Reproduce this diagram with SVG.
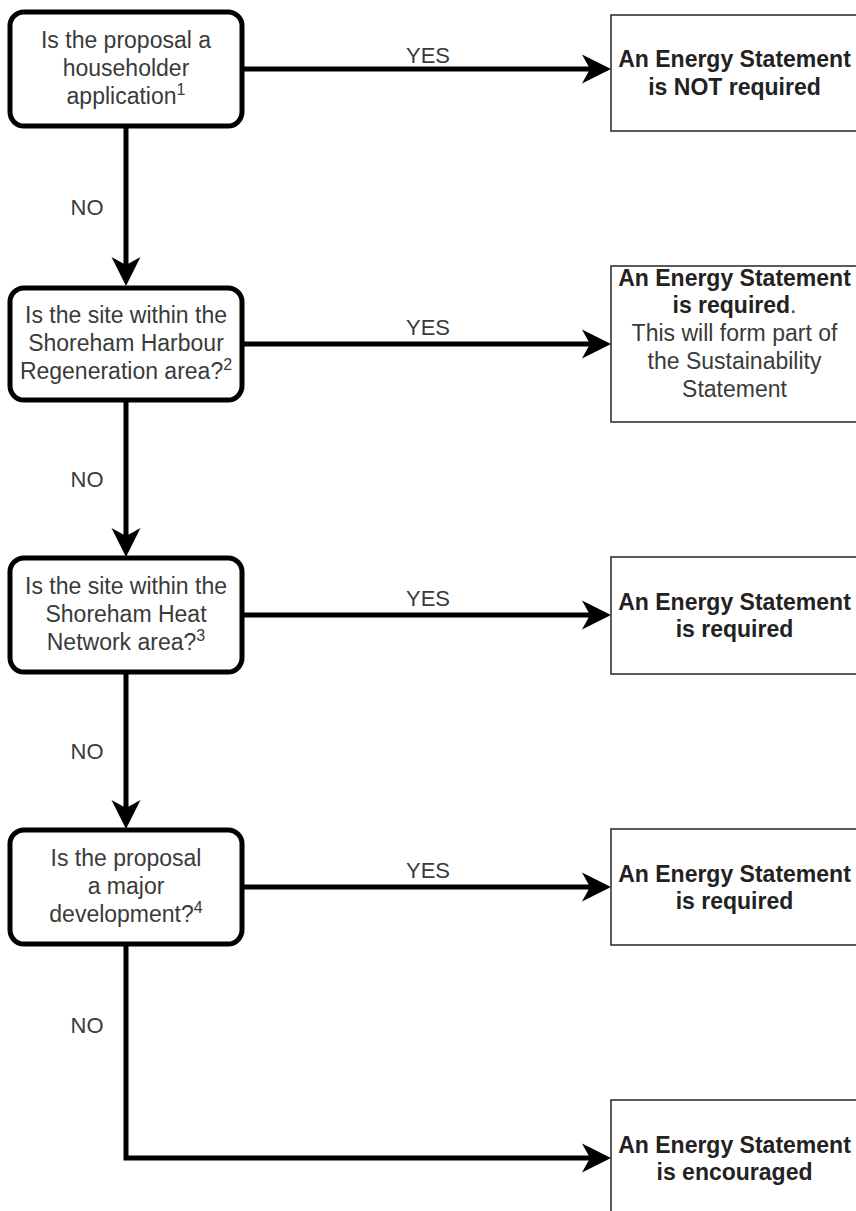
<svg xmlns="http://www.w3.org/2000/svg" width="856" height="1211" viewBox="0 0 856 1211">
<style>
.dec{fill:#fff;stroke:#000;stroke-width:5}
.out{fill:#fff;stroke:#333;stroke-width:1.6}
.t{font-family:"Liberation Sans",Arial,sans-serif;font-size:23px;fill:#3a3a3a;text-anchor:middle}
.b{font-weight:bold;fill:#222}
.lbl{font-family:"Liberation Sans",Arial,sans-serif;font-size:22px;fill:#3a3a3a;text-anchor:middle}
.sup{font-size:16px}
.c{fill:none;stroke:#000;stroke-width:5}
</style>
<defs>
<marker id="arr" markerUnits="userSpaceOnUse" markerWidth="36" markerHeight="36" viewBox="-34 -16 36 32" refX="-6" refY="0" orient="auto">
<path d="M0,0 L-29,-14.5 L-21,0 L-29,14.5 Z" fill="#000"/>
</marker>
</defs>
<g id="connectors">
<path class="c" d="M244,69 H605" marker-end="url(#arr)"/>
<path class="c" d="M244,344 H605" marker-end="url(#arr)"/>
<path class="c" d="M244,615 H605" marker-end="url(#arr)"/>
<path class="c" d="M244,887 H605" marker-end="url(#arr)"/>
<path class="c" d="M126,128 V280" marker-end="url(#arr)"/>
<path class="c" d="M126,402 V551" marker-end="url(#arr)"/>
<path class="c" d="M126,674 V823" marker-end="url(#arr)"/>
<path class="c" d="M126,946 V1158 H605" marker-end="url(#arr)"/>
<text class="lbl" x="428" y="63">YES</text>
<text class="lbl" x="428" y="335">YES</text>
<text class="lbl" x="428" y="606">YES</text>
<text class="lbl" x="428" y="878">YES</text>
<text class="lbl" x="87" y="215">NO</text>
<text class="lbl" x="87" y="487">NO</text>
<text class="lbl" x="87" y="759">NO</text>
<text class="lbl" x="87" y="1033">NO</text>
</g>
<g id="q1">
<rect class="dec" x="10" y="12" width="232" height="114" rx="14"/>
<text class="t" x="126" y="48">Is the proposal a</text>
<text class="t" x="126" y="76">householder</text>
<text class="t" x="126" y="104">application<tspan class="sup" dy="-9">1</tspan></text>
</g>
<g id="q2">
<rect class="dec" x="10" y="288" width="232" height="112" rx="14"/>
<text class="t" x="126" y="323">Is the site within the</text>
<text class="t" x="126" y="351">Shoreham Harbour</text>
<text class="t" x="126" y="379">Regeneration area?<tspan class="sup" dy="-9">2</tspan></text>
</g>
<g id="q3">
<rect class="dec" x="10" y="558" width="232" height="114" rx="14"/>
<text class="t" x="126" y="594">Is the site within the</text>
<text class="t" x="126" y="622">Shoreham Heat</text>
<text class="t" x="126" y="650">Network area?<tspan class="sup" dy="-9">3</tspan></text>
</g>
<g id="q4">
<rect class="dec" x="10" y="830" width="232" height="114" rx="14"/>
<text class="t" x="126" y="866">Is the proposal</text>
<text class="t" x="126" y="894">a major</text>
<text class="t" x="126" y="922">development?<tspan class="sup" dy="-9">4</tspan></text>
</g>
<g id="r1">
<rect class="out" x="611" y="15" width="250" height="116"/>
<text class="t b" x="734.5" y="67">An Energy Statement</text>
<text class="t b" x="734.5" y="95">is NOT required</text>
</g>
<g id="r2">
<rect class="out" x="611" y="266" width="250" height="156"/>
<text class="t b" x="734.5" y="286">An Energy Statement</text>
<text class="t" x="734.5" y="313"><tspan class="b">is required</tspan>.</text>
<text class="t" x="734.5" y="341">This will form part of</text>
<text class="t" x="734.5" y="369">the Sustainability</text>
<text class="t" x="734.5" y="397">Statement</text>
</g>
<g id="r3">
<rect class="out" x="611" y="557" width="250" height="117"/>
<text class="t b" x="734.5" y="610">An Energy Statement</text>
<text class="t b" x="734.5" y="637">is required</text>
</g>
<g id="r4">
<rect class="out" x="611" y="829" width="250" height="116"/>
<text class="t b" x="734.5" y="882">An Energy Statement</text>
<text class="t b" x="734.5" y="909">is required</text>
</g>
<g id="r5">
<rect class="out" x="611" y="1100" width="250" height="120"/>
<text class="t b" x="734.5" y="1153">An Energy Statement</text>
<text class="t b" x="734.5" y="1180">is encouraged</text>
</g>
</svg>
